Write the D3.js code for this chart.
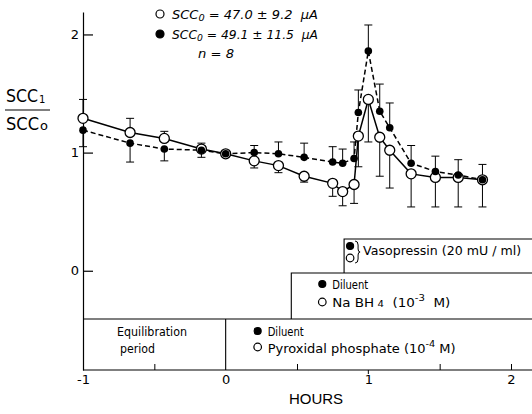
<!DOCTYPE html>
<html>
<head>
<meta charset="utf-8">
<script src="https://cdn.jsdelivr.net/npm/d3@7/dist/d3.min.js"></script>
<style>
  body { margin: 0; background: #fff; }
  svg { display: block; }
  svg text { white-space: pre; }
</style>
</head>
<body>
<div id="chart"></div>
<script>
// time points (hours)
const hours = [-1, -0.67, -0.43, -0.17, 0, 0.2, 0.37, 0.55, 0.75, 0.82, 0.9, 0.93, 1.0, 1.08, 1.15, 1.3, 1.47, 1.63, 1.8];
// open circles: pyridoxal phosphate + NaBH4
const openMean = [1.29, 1.17, 1.12, 1.03, 0.99, 0.93, 0.89, 0.80, 0.74, 0.67, 0.73, 1.14, 1.45, 1.13, 1.02, 0.82, 0.79, 0.79, 0.77];
const openBarEnd = [1.45, 1.29, 1.18, 1.08, null, 0.87, 0.83, 0.75, 0.63, 0.55, 0.57, 0.88, 1.09, 0.80, 0.70, 0.54, 0.54, 0.54, 0.54];
// filled circles: diluent
const filledMean = [1.19, 1.08, 1.03, 1.02, 0.99, 1.0, 0.99, 0.96, 0.92, 0.91, 0.95, 1.34, 1.86, 1.35, 1.21, 0.91, 0.84, 0.81, 0.77];
const filledBarEnd = [1.05, 0.92, 0.93, 0.96, null, 1.06, 1.09, 1.08, 1.05, 1.03, 1.09, 1.53, 2.08, 1.58, 1.42, 1.06, 0.97, 0.94, 0.90];

const yTicks = [0, 1, 2];
const xLabels = [-1, 0, 1, 2];
const xMinor = [-0.5, 0.5, 1.5, 2];
// treatment start times (hours)
const equilStart = -1, pyridoxalStart = 0, nabh4Start = 0.46, vasoStart = 0.83;

const width = 532, height = 414;
const fnt = `"DejaVu Sans", sans-serif`;

const x = d3.scaleLinear().domain([-1, 2]).range([83, 511]);
const y = d3.scaleLinear().domain([-0.84, 2.19]).range([370, 12]);

const svg = d3.select("#chart").append("svg")
    .attr("width", width)
    .attr("height", height);

// squeeze a text to a given width (the original lettering is narrow)
const fit = (t, w) => t.attr("textLength", w).attr("lengthAdjust", "spacingAndGlyphs");

// y axis
svg.append("g")
    .attr("transform", `translate(${x(-1)},0)`)
    .call(d3.axisLeft(y).tickValues(yTicks).tickSizeInner(-10).tickSizeOuter(0).tickPadding(4).tickFormat(d3.format("d")))
    .call(g => g.selectAll("path,line").attr("stroke", "#000").attr("stroke-width", 1.2))
    .call(g => g.selectAll("text").attr("font-family", fnt).attr("font-size", 13).attr("fill", "#000"));

// x axis line, running off the right edge
svg.append("line")
    .attr("x1", x(-1)).attr("x2", width)
    .attr("y1", y(-0.84)).attr("y2", y(-0.84))
    .attr("stroke", "#000").attr("stroke-width", 1.2);

svg.append("g")
    .attr("transform", `translate(0,${y(-0.84)})`)
    .call(d3.axisBottom(x).tickValues(xMinor).tickSizeInner(-6).tickSizeOuter(0).tickFormat(""))
    .call(g => g.select(".domain").remove())
    .call(g => g.selectAll("line").attr("stroke", "#000"));

svg.append("g")
    .attr("transform", `translate(0,${y(-0.84)})`)
    .call(d3.axisBottom(x).tickValues(xLabels).tickSizeInner(0).tickSizeOuter(0).tickPadding(5).tickFormat(d => d < 0 ? "-" + (-d) : d))
    .call(g => g.select(".domain").remove())
    .call(g => g.selectAll("text").attr("font-family", fnt).attr("font-size", 13).attr("fill", "#000"));

// small downward tick at 1 h
svg.append("line")
    .attr("x1", x(1)).attr("x2", x(1))
    .attr("y1", y(-0.84)).attr("y2", y(-0.84) + 4)
    .attr("stroke", "#000");

svg.append("text")
    .attr("x", 316).attr("y", 404)
    .attr("text-anchor", "middle")
    .attr("font-family", "Liberation Sans, Arial, sans-serif")
    .attr("font-size", 15)
    .text("HOURS");

// y label
const yl = svg.append("g").attr("font-family", fnt).attr("font-size", 17);
yl.append("text").attr("x", 6).attr("y", 102).text("SCC").call(fit, 32);
yl.append("text").attr("x", 39).attr("y", 103).attr("font-size", 10).text("1");
yl.append("line").attr("x1", 5).attr("x2", 50).attr("y1", 110).attr("y2", 110)
    .attr("stroke", "#000").attr("stroke-width", 1.2);
yl.append("text").attr("x", 6).attr("y", 130).text("SCC").call(fit, 33);
yl.append("text").attr("x", 40).attr("y", 130).attr("font-size", 13).text("o");

// legend at top
const legRows = [
    { open: true, val: "47.0 ± 9.2", cy: 14 },
    { open: false, val: "49.1 ± 11.5", cy: 34 }
];
const leg = svg.append("g").attr("font-family", fnt).attr("font-style", "italic").attr("font-size", 12);
legRows.forEach(r => {
    leg.append("circle").attr("cx", 160).attr("cy", r.cy).attr("r", 4)
        .attr("fill", r.open ? "#fff" : "#000").attr("stroke", "#000").attr("stroke-width", 1.2);
    const t = leg.append("text").attr("x", 172).attr("y", r.cy + 5);
    t.append("tspan").text("SCC");
    t.append("tspan").attr("font-size", 9).attr("dy", 2).text("0");
    t.append("tspan").attr("dy", -2).text(` = ${r.val}  μA`);
    fit(t, 146);
});
leg.append("text").attr("x", 198).attr("y", 58).text("n = 8").call(fit, 36);

// treatment boxes
const base = y(-0.84);
const row1 = base - 51, row2 = row1 - 46, row3 = row2 - 34;
const boxes = svg.append("g").attr("fill", "none").attr("stroke", "#000").attr("stroke-width", 1.1);
boxes.append("path").attr("d", `M${x(equilStart)},${row1}H${width}`);
boxes.append("path").attr("d", `M${x(pyridoxalStart)},${base}V${row1}`);
boxes.append("path").attr("d", `M${x(nabh4Start)},${row1}V${row2}H${width}`);
boxes.append("path").attr("d", `M${x(vasoStart)},${row2}V${row3}H${width}`);

const bt = svg.append("g").attr("font-family", fnt).attr("font-size", 12);
bt.append("text").attr("x", 117).attr("y", row1 + 17).text("Equilibration").call(fit, 70);
bt.append("text").attr("x", 120).attr("y", row1 + 34).text("period").call(fit, 35);

function marker(cx, cy, open) {
    svg.append("circle").attr("cx", cx).attr("cy", cy).attr("r", open ? 3.8 : 3.5)
        .attr("fill", open ? "#fff" : "#000").attr("stroke", "#000").attr("stroke-width", 1.2);
}
marker(x(pyridoxalStart) + 32, row1 + 12, false);
bt.append("text").attr("x", x(pyridoxalStart) + 42).attr("y", row1 + 17).text("Diluent").call(fit, 36);
marker(x(pyridoxalStart) + 32, row1 + 28, true);
bt.append("text").attr("x", x(pyridoxalStart) + 42).attr("y", row1 + 34)
    .call(t => t.append("tspan").text("Pyroxidal phosphate (10"))
    .call(t => t.append("tspan").attr("font-size", 9).attr("dy", -6).text("-4"))
    .call(t => t.append("tspan").attr("dy", 6).text(" M)"))
    .call(fit, 188);

marker(x(nabh4Start) + 31, row2 + 11, false);
bt.append("text").attr("x", x(nabh4Start) + 41).attr("y", row2 + 16).text("Diluent").call(fit, 36);
marker(x(nabh4Start) + 31, row2 + 29, true);
bt.append("text").attr("x", x(nabh4Start) + 41).attr("y", row2 + 34)
    .call(t => t.append("tspan").text("Na BH"))
    .call(t => t.append("tspan").attr("font-size", 9).text(" 4"))
    .call(t => t.append("tspan").text("  (10"))
    .call(t => t.append("tspan").attr("font-size", 9).attr("dy", -6).text("-3"))
    .call(t => t.append("tspan").attr("dy", 6).text("  M)"))
    .call(fit, 118);

// vasopressin row: both markers grouped by a brace
const vx = x(vasoStart);
marker(vx + 6, row3 + 7, false);
marker(vx + 6, row3 + 19, true);
svg.append("path")
    .attr("d", `M${vx + 11},${row3 + 2}Q${vx + 14},${row3 + 2} ${vx + 14},${row3 + 6}V${row3 + 10}Q${vx + 14},${row3 + 13} ${vx + 16},${row3 + 13}Q${vx + 14},${row3 + 13} ${vx + 14},${row3 + 16}V${row3 + 20}Q${vx + 14},${row3 + 24} ${vx + 11},${row3 + 24}`)
    .attr("fill", "none").attr("stroke", "#000").attr("stroke-width", 1);
bt.append("text").attr("x", vx + 19).attr("y", row3 + 16).attr("font-size", 11.5)
    .text("Vasopressin (20 mU / ml)").call(fit, 158);

// data lines
const line = vals => d3.line().x((d, i) => x(hours[i])).y(d => y(d))(vals);

svg.append("path").attr("d", line(filledMean))
    .attr("fill", "none").attr("stroke", "#000").attr("stroke-width", 1.5).attr("stroke-dasharray", "5,3");
svg.append("path").attr("d", line(openMean))
    .attr("fill", "none").attr("stroke", "#000").attr("stroke-width", 1.5);

// error bars
function errorBars(means, ends) {
    const g = svg.append("g").attr("stroke", "#000").attr("stroke-width", 1);
    hours.forEach((h, i) => {
        if (ends[i] == null) return;
        g.append("line").attr("x1", x(h)).attr("x2", x(h)).attr("y1", y(means[i])).attr("y2", y(ends[i]));
        g.append("line").attr("x1", x(h) - 4).attr("x2", x(h) + 4).attr("y1", y(ends[i])).attr("y2", y(ends[i]));
    });
}
errorBars(openMean, openBarEnd);
errorBars(filledMean, filledBarEnd);

// points
svg.append("g").selectAll("circle").data(openMean).join("circle")
    .attr("cx", (d, i) => x(hours[i])).attr("cy", d => y(d)).attr("r", 5)
    .attr("fill", "#fff").attr("stroke", "#000").attr("stroke-width", 1.3);
svg.append("g").selectAll("circle").data(filledMean).join("circle")
    .attr("cx", (d, i) => x(hours[i])).attr("cy", d => y(d)).attr("r", 3.8)
    .attr("fill", "#000");
</script>
</body>
</html>
